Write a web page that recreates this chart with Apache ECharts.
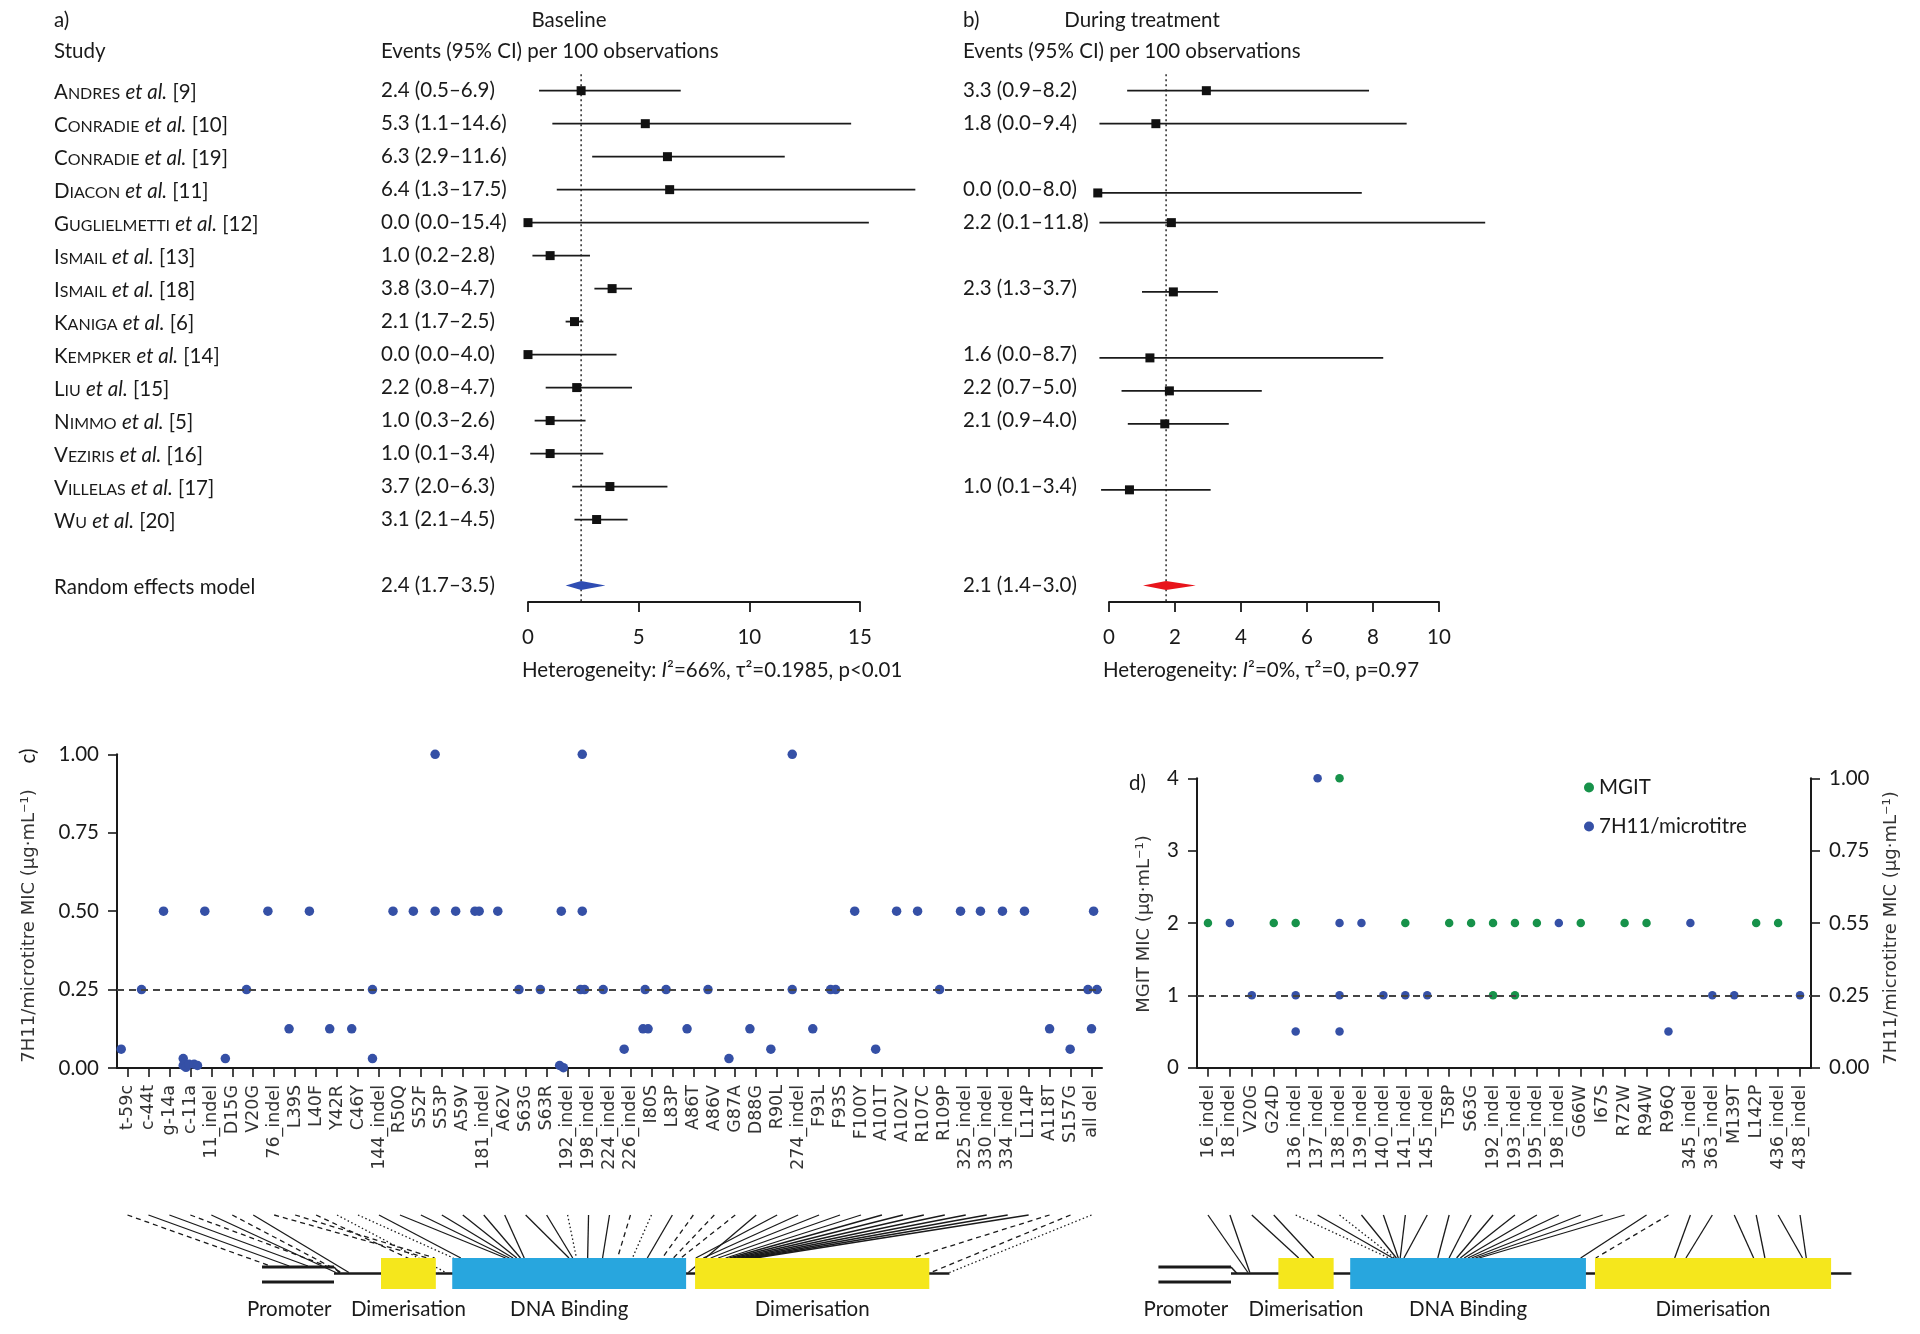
<!DOCTYPE html>
<html>
<head>
<meta charset="utf-8">
<title>Forest plots and MIC by mutation</title>
<script src="https://cdn.jsdelivr.net/npm/echarts@6.0.0/dist/echarts.min.js"></script>
<style>
html,body{margin:0;padding:0;background:#ffffff;}
#chart{width:1920px;height:1334px;}
</style>
</head>
<body>
<div id="chart"></div>
<script>
// ================= DATA =================
const studyNames = ['Andres','Conradie','Conradie','Diacon','Guglielmetti','Ismail','Ismail','Kaniga','Kempker','Liu','Nimmo','Veziris','Villelas','Wu'];
const studyRefs  = [9,10,19,11,12,13,18,6,14,15,5,16,17,20];

// a) Baseline
const baseEst = [2.4,5.3,6.3,6.4,0.0,1.0,3.8,2.1,0.0,2.2,1.0,1.0,3.7,3.1];
const baseLo  = [0.5,1.1,2.9,1.3,0.0,0.2,3.0,1.7,0.0,0.8,0.3,0.1,2.0,2.1];
const baseHi  = [6.9,14.6,11.6,17.5,15.4,2.8,4.7,2.5,4.0,4.7,2.6,3.4,6.3,4.5];
const basePooled = [1.7, 2.4, 3.5];
const baseText = ['2.4 (0.5–6.9)','5.3 (1.1–14.6)','6.3 (2.9–11.6)','6.4 (1.3–17.5)','0.0 (0.0–15.4)','1.0 (0.2–2.8)','3.8 (3.0–4.7)','2.1 (1.7–2.5)','0.0 (0.0–4.0)','2.2 (0.8–4.7)','1.0 (0.3–2.6)','1.0 (0.1–3.4)','3.7 (2.0–6.3)','3.1 (2.1–4.5)'];
const basePooledText = '2.4 (1.7–3.5)';

// b) During treatment (positions as drawn in the picture)
const treatRow = [0, 1, 3.1, 4, 6.1, 8.1, 9.1, 10.1, 12.1];
const treatEst = [2.95, 1.42, -0.34, 1.89, 1.95, 1.24, 1.83, 1.69, 0.62];
const treatLo  = [0.55, -0.29, -0.34, -0.29, 1.0, -0.29, 0.38, 0.57, -0.24];
const treatHi  = [7.88, 9.02, 7.66, 11.4, 3.3, 8.31, 4.63, 3.63, 3.08];
const treatPooled = [1.03, 1.73, 2.63];
const treatText = ['3.3 (0.9–8.2)','1.8 (0.0–9.4)','','0.0 (0.0–8.0)','2.2 (0.1–11.8)','','2.3 (1.3–3.7)','','1.6 (0.0–8.7)','2.2 (0.7–5.0)','2.1 (0.9–4.0)','','1.0 (0.1–3.4)',''];
const treatPooledText = '2.1 (1.4–3.0)';

// c) 7H11/microtitre MIC per mutation
const cCats = ['t-59c','c-44t','g-14a','c-11a','11_indel','D15G','V20G','76_indel','L39S','L40F','Y42R','C46Y','144_indel','R50Q','S52F','S53P','A59V','181_indel','A62V','S63G','S63R','192_indel','198_indel','224_indel','226_indel','I80S','L83P','A86T','A86V','G87A','D88G','R90L','274_indel','F93L','F93S','F100Y','A101T','A102V','R107C','R109P','325_indel','330_indel','334_indel','L114P','A118T','S157G','all del'];
const cPos = [-0.3,0.67,1.72,2.66,2.66,2.79,2.94,3.18,3.34,3.69,4.67,5.68,6.7,7.71,8.68,9.65,10.7,11.69,11.69,12.67,13.64,14.68,14.68,15.66,16.58,16.78,17.67,18.68,19.7,20.62,20.8,20.7,21.7,21.7,21.62,21.81,22.7,23.7,24.6,24.84,24.7,25.7,26.7,27.7,28.7,29.7,30.7,31.72,31.72,32.7,33.55,33.79,34.7,35.7,36.7,37.7,38.75,39.75,40.7,41.75,42.8,44.0,44.98,45.83,46.26,46.0,46.1];
const cVal = [0.06,0.25,0.5,0.03,0.008,0.002,0.012,0.012,0.008,0.5,0.03,0.25,0.5,0.125,0.5,0.125,0.125,0.25,0.03,0.5,0.5,1.0,0.5,0.5,0.5,0.5,0.5,0.25,0.25,0.008,0.001,0.5,1.0,0.5,0.25,0.25,0.25,0.06,0.125,0.125,0.25,0.25,0.125,0.25,0.03,0.125,0.06,1.0,0.25,0.125,0.25,0.25,0.5,0.06,0.5,0.5,0.25,0.5,0.5,0.5,0.5,0.125,0.06,0.25,0.25,0.125,0.5];

// d) MGIT and 7H11 MIC per mutation
const dCats = ['16_indel','18_indel','V20G','G24D','136_indel','137_indel','138_indel','139_indel','140_indel','141_indel','145_indel','T58P','S63G','192_indel','193_indel','195_indel','198_indel','G66W','I67S','R72W','R94W','R96Q','345_indel','363_indel','M139T','L142P','436_indel','438_indel'];
const mgitCat = ['16_indel','G24D','136_indel','138_indel','141_indel','T58P','S63G','192_indel','192_indel','193_indel','193_indel','195_indel','G66W','R72W','R94W','L142P','436_indel'];
const mgitVal = [2,2,2,4,2,2,2,2,1,2,1,2,2,2,2,2,2];
const h11Cat = ['18_indel','V20G','136_indel','136_indel','137_indel','138_indel','138_indel','138_indel','139_indel','140_indel','141_indel','145_indel','198_indel','R96Q','345_indel','363_indel','M139T','438_indel'];
const h11Val = [0.5,0.25,0.25,0.125,1.0,0.5,0.25,0.125,0.5,0.25,0.25,0.25,0.5,0.125,0.5,0.25,0.25,0.25];
const dRightTickLabels = ['0.00','0.25','0.55','0.75','1.00'];

// gene schematic (residue units)
const promoterSpan = [-19.3, 0];
const geneSpan = [0, 165];
const promoterLabelAt = -12;
const domainName  = ['Dimerisation','DNA Binding','Dimerisation'];
const domainStart = [12.6, 31.7, 96.8];
const domainEnd   = [27.3, 94.4, 159.6];
// where each mutation's connector meets the gene
const cGeneHit = [-17,-12,-7,-2,0.5,2,4,25,27,28,30,32,34,46,47,48,49,50,51,63,64,65,68,72,76,80,84,88,91,93,95,97,99,101,103,105,106,107,108,109,110,111,112,113,155,160,165];
const cLineType = ['d','s','s','d','s','d','s','d','d','d','o','o','s','s','s','s','s','s','s','s','s','o','s','s','d','o','s','d','d','d','s','s','s','s','s','s','s','s','s','s','s','s','s','s','d','d','o'];
const dGeneHit = [4.5,5,18,22,42,43,43.5,44,44.5,45,46,55,58,60,61,62,63,64,65,66,93,97,118,121,139,142,152,153];
const dLineType = ['s','s','s','s','o','s','o','s','s','s','s','s','s','s','s','s','s','s','s','s','s','d','s','s','s','s','s','s'];

// ================= STYLE =================
const F = 'Lato, "Noto Sans", sans-serif';
const FD = '"DejaVu Sans", sans-serif';
const FS = 20.5;
const INK = '#1a1a1a';
const BLUE = '#3550a6';
const GREEN = '#17924a';
const YELLOW = '#f5e71c';
const SKY = '#28a6de';
const Y = {top: 15, boxTop: 58, boxBot: 89, line: 73.5, promUp: 67, promLow: 82, label: 109};

// ================= HELPERS =================
function studyLabel(r) {
  if (r >= 0 && r < studyNames.length) {
    const n = studyNames[r];
    return '{cap|' + n[0] + '}{sc|' + n.slice(1).toUpperCase() + '}{t| }{it|et al.}{t| [' + studyRefs[r] + ']}';
  }
  if (r === studyNames.length + 1) return '{t|Random effects model}';
  return '';
}
function rowText(arr, pooled) {
  return function (v) {
    if (Math.abs(v - Math.round(v)) > 1e-6) return '';
    const r = Math.round(v);
    if (r >= 0 && r < arr.length) return arr[r];
    if (r === studyNames.length + 1) return pooled;
    return '';
  };
}
function ciRender(params, api) {
  const y = api.value(2);
  const p1 = api.coord([api.value(0), y]);
  const p2 = api.coord([api.value(1), y]);
  return {type: 'line', shape: {x1: p1[0], y1: p1[1], x2: p2[0], y2: p2[1]}, style: {stroke: INK, lineWidth: 1.8}};
}
function diamondRender(color) {
  return function (params, api) {
    const row = api.value(3);
    const l = api.coord([api.value(0), row]);
    const c = api.coord([api.value(1), row]);
    const r = api.coord([api.value(2), row]);
    return {type: 'polygon', shape: {points: [[l[0], c[1]], [c[0], c[1] - 4.5], [r[0], c[1]], [c[0], c[1] + 4.5]]}, style: {fill: color}};
  };
}
function refRender(params, api) {
  const a = api.coord([api.value(0), api.value(1)]);
  const b = api.coord([api.value(0), api.value(2)]);
  return {type: 'line', shape: {x1: a[0], y1: a[1], x2: b[0], y2: b[1]}, style: {stroke: INK, lineWidth: 1.4, lineDash: [2, 3]}};
}
function txt(x, y, text, opt) {
  opt = opt || {};
  const st = {text: text, fill: opt.fill || INK, font: opt.font || (FS + 'px ' + F),
    align: opt.align || 'left', textAlign: opt.align || 'left',
    verticalAlign: 'middle', textVerticalAlign: 'middle'};
  if (opt.rich) st.rich = opt.rich;
  return {type: 'text', x: x, y: y, rotation: opt.rot || 0, z: 10, style: st};
}
function backboneRender(params, api) {
  const pu0 = api.coord([promoterSpan[0], Y.promUp]), pu1 = api.coord([promoterSpan[1], Y.promUp]);
  const pl0 = api.coord([promoterSpan[0], Y.promLow]), pl1 = api.coord([promoterSpan[1], Y.promLow]);
  const g0 = api.coord([geneSpan[0], Y.line]), g1 = api.coord([geneSpan[1], Y.line]);
  const lb = api.coord([promoterLabelAt, Y.label]);
  return {type: 'group', children: [
    {type: 'line', shape: {x1: pu0[0], y1: pu0[1], x2: pu1[0], y2: pu1[1]}, style: {stroke: INK, lineWidth: 3}},
    {type: 'line', shape: {x1: pu1[0], y1: pu1[1], x2: g0[0] + 6, y2: g0[1]}, style: {stroke: INK, lineWidth: 1.5}},
    {type: 'line', shape: {x1: pl0[0], y1: pl0[1], x2: pl1[0], y2: pl1[1]}, style: {stroke: INK, lineWidth: 3}},
    {type: 'line', shape: {x1: g0[0], y1: g0[1], x2: g1[0], y2: g1[1]}, style: {stroke: INK, lineWidth: 2.5}},
    {type: 'text', x: lb[0], y: lb[1], style: {text: 'Promoter', fill: INK, font: FS + 'px ' + F, align: 'center', textAlign: 'center', verticalAlign: 'middle', textVerticalAlign: 'middle'}}
  ]};
}
function domainRender(params, api) {
  const i = api.value(2);
  const a = api.coord([api.value(0), Y.boxTop]);
  const b = api.coord([api.value(1), Y.boxBot]);
  const lb = api.coord([(api.value(0) + api.value(1)) / 2, Y.label]);
  return {type: 'group', children: [
    {type: 'rect', shape: {x: a[0], y: a[1], width: b[0] - a[0], height: b[1] - a[1]}, style: {fill: i === 1 ? SKY : YELLOW}},
    {type: 'text', x: lb[0], y: lb[1], style: {text: domainName[i], fill: INK, font: FS + 'px ' + F, align: 'center', textAlign: 'center', verticalAlign: 'middle', textVerticalAlign: 'middle'}}
  ]};
}
function inDomain(v) {
  for (let k = 0; k < domainStart.length; k++) if (v >= domainStart[k] && v <= domainEnd[k]) return true;
  return false;
}
function connRender(params, api) {
  const b = api.value(1);
  const yb = b < 0 ? Y.promUp - 1 : (inDomain(b) ? Y.boxTop : Y.line - 1);
  const t = api.coord([api.value(0), Y.top]);
  const e = api.coord([b, yb]);
  const code = api.value(2);
  return {type: 'line', shape: {x1: t[0], y1: t[1], x2: e[0], y2: e[1]},
    style: {stroke: INK, lineWidth: 1.3, lineDash: code === 1 ? [5, 4] : (code === 2 ? [1.5, 2.5] : null)}};
}

const hiddenAxis = {show: false, axisLine: {show: false}, axisTick: {show: false}, axisLabel: {show: false}, splitLine: {show: false}};
const forestY = {type: 'value', min: -1, max: 15.5, interval: 1, inverse: true, position: 'left',
  axisLine: {show: false}, axisTick: {show: false}, splitLine: {show: false}};
const labelBase = {fontFamily: F, fontSize: FS, color: INK};
const rich = {
  cap: {fontFamily: F, fontSize: FS, color: INK, verticalAlign: 'bottom', lineHeight: 24},
  sc: {fontFamily: F, fontSize: 16, color: INK, verticalAlign: 'bottom', lineHeight: 24, padding: [0, 0, 1, 0]},
  it: {fontFamily: F, fontSize: FS, fontStyle: 'italic', color: INK, verticalAlign: 'bottom', lineHeight: 24},
  t: {fontFamily: F, fontSize: FS, color: INK, verticalAlign: 'bottom', lineHeight: 24}
};
function forestX(grid, max, interval) {
  return {gridIndex: grid, type: 'value', min: 0, max: max, interval: interval, position: 'bottom',
    axisLine: {show: true, onZero: false, lineStyle: {color: INK, width: 1.8}},
    axisTick: {show: true, length: 10, lineStyle: {color: INK, width: 1.8}},
    axisLabel: Object.assign({show: true, margin: 25}, labelBase), splitLine: {show: false}};
}
function catX(grid, cats) {
  return {gridIndex: grid, type: 'category', data: cats, boundaryGap: true, position: 'bottom',
    axisLine: {show: true, onZero: false, lineStyle: {color: INK, width: 2}},
    axisTick: {show: true, interval: 0, alignWithLabel: true, length: 9, lineStyle: {color: INK, width: 1.6}},
    axisLabel: {show: true, interval: 0, rotate: 90, margin: 17, fontFamily: FD, fontSize: 17.5, color: '#333'},
    splitLine: {show: false}};
}
function valY(grid, min, max, interval, pos, fmt) {
  return {gridIndex: grid, type: 'value', min: min, max: max, interval: interval, position: pos,
    axisLine: {show: true, onZero: false, lineStyle: {color: INK, width: 2}},
    axisTick: {show: true, length: 9, lineStyle: {color: INK, width: 1.6}},
    axisLabel: Object.assign({show: true, margin: 18, formatter: fmt}, labelBase), splitLine: {show: false}};
}

// ================= OPTION =================
const option = {
  animation: false,
  backgroundColor: '#ffffff',
  grid: [
    {left: 528, top: 57.7, width: 332, height: 544.3},
    {left: 1109, top: 57.7, width: 330, height: 544.3},
    {left: 117, top: 754.3, width: 985, height: 313.7},
    {left: 1197, top: 778.3, width: 614, height: 289.4},
    {left: 259.4, top: 1200, width: 708.7, height: 100},
    {left: 1155.8, top: 1200, width: 714.4, height: 100}
  ],
  xAxis: [
    forestX(0, 15, 5),
    forestX(1, 10, 2),
    catX(2, cCats),
    Object.assign({gridIndex: 2, type: 'value', min: -0.5, max: cCats.length - 0.5}, hiddenAxis),
    catX(3, dCats),
    Object.assign({gridIndex: 4, type: 'value', min: -20, max: 170}, hiddenAxis),
    Object.assign({gridIndex: 5, type: 'value', min: -20, max: 170}, hiddenAxis)
  ],
  yAxis: [
    Object.assign({gridIndex: 0}, forestY, {axisLabel: Object.assign({margin: 474, align: 'left', rich: rich,
      formatter: function (v) { return Math.abs(v - Math.round(v)) > 1e-6 ? '' : studyLabel(Math.round(v)); }}, labelBase)}),
    Object.assign({gridIndex: 0}, forestY, {axisLabel: Object.assign({margin: 147, align: 'left', formatter: rowText(baseText, basePooledText)}, labelBase)}),
    Object.assign({gridIndex: 1}, forestY, {axisLabel: Object.assign({margin: 146, align: 'left', formatter: rowText(treatText, treatPooledText)}, labelBase)}),
    valY(2, 0, 1, 0.25, 'left', function (v) { return v.toFixed(2); }),
    valY(3, 0, 4, 1, 'left', function (v) { return String(v); }),
    valY(3, 0, 1, 0.25, 'right', function (v) { const s = dRightTickLabels[Math.round(v / 0.25)]; return s === undefined ? '' : s; }),
    Object.assign({gridIndex: 4, type: 'value', min: 0, max: 100, inverse: true}, hiddenAxis),
    Object.assign({gridIndex: 5, type: 'value', min: 0, max: 100, inverse: true}, hiddenAxis)
  ],
  legend: {
    show: true, orient: 'vertical', left: 1579, top: 772, itemWidth: 10, itemHeight: 10, itemGap: 18,
    icon: 'circle', selectedMode: false, data: ['MGIT', '7H11/microtitre'],
    textStyle: {fontFamily: F, fontSize: FS, color: INK}
  },
  graphic: [
    txt(54, 20, 'a)'),
    txt(569, 20, 'Baseline', {align: 'center'}),
    txt(54, 51, 'Study'),
    txt(381, 51, 'Events (95% CI) per 100 observations'),
    txt(963, 20, 'b)'),
    txt(1142, 20, 'During treatment', {align: 'center'}),
    txt(963, 51, 'Events (95% CI) per 100 observations'),
    txt(522, 670, '{n|Heterogeneity: }{i|I}{n|²=66%, τ²=0.1985, p<0.01}', {rich: {n: {fontFamily: F, fontSize: FS, color: INK}, i: {fontFamily: F, fontSize: FS, fontStyle: 'italic', color: INK}}}),
    txt(1103, 670, '{n|Heterogeneity: }{i|I}{n|²=0%, τ²=0, p=0.97}', {rich: {n: {fontFamily: F, fontSize: FS, color: INK}, i: {fontFamily: F, fontSize: FS, fontStyle: 'italic', color: INK}}}),
    txt(28, 756, 'c)', {align: 'center', rot: Math.PI / 2}),
    txt(29, 926, '7H11/microtitre MIC (µg·mL⁻¹)', {align: 'center', rot: Math.PI / 2, font: '18px ' + FD, fill: '#333'}),
    txt(1129, 783, 'd)'),
    txt(1144, 924, 'MGIT MIC (µg·mL⁻¹)', {align: 'center', rot: Math.PI / 2, font: '18px ' + FD, fill: '#333'}),
    txt(1891, 928, '7H11/microtitre MIC (µg·mL⁻¹)', {align: 'center', rot: Math.PI / 2, font: '18px ' + FD, fill: '#333'})
  ],
  series: [
    // ---- a) baseline
    {type: 'custom', xAxisIndex: 0, yAxisIndex: 0, renderItem: refRender, data: [[basePooled[1], -0.5, 15.5]], silent: true, z: 1},
    {type: 'custom', xAxisIndex: 0, yAxisIndex: 0, renderItem: ciRender, silent: true, z: 2,
      data: baseEst.map(function (v, i) { return [baseLo[i], baseHi[i], i]; })},
    {type: 'scatter', xAxisIndex: 0, yAxisIndex: 0, symbol: 'rect', symbolSize: 9, silent: true, z: 3, clip: false,
      itemStyle: {color: '#111', opacity: 1}, data: baseEst.map(function (v, i) { return [v, i]; })},
    {type: 'custom', xAxisIndex: 0, yAxisIndex: 0, renderItem: diamondRender('#2f4db3'), silent: true, z: 3,
      data: [[basePooled[0], basePooled[1], basePooled[2], studyNames.length + 1]]},
    // ---- b) during treatment
    {type: 'custom', xAxisIndex: 1, yAxisIndex: 2, renderItem: refRender, data: [[treatPooled[1], -0.5, 15.5]], silent: true, z: 1},
    {type: 'custom', xAxisIndex: 1, yAxisIndex: 2, renderItem: ciRender, silent: true, z: 2,
      data: treatEst.map(function (v, i) { return [treatLo[i], treatHi[i], treatRow[i]]; })},
    {type: 'scatter', xAxisIndex: 1, yAxisIndex: 2, symbol: 'rect', symbolSize: 9, silent: true, z: 3, clip: false,
      itemStyle: {color: '#111', opacity: 1}, data: treatEst.map(function (v, i) { return [v, treatRow[i]]; })},
    {type: 'custom', xAxisIndex: 1, yAxisIndex: 2, renderItem: diamondRender('#e8141b'), silent: true, z: 3,
      data: [[treatPooled[0], treatPooled[1], treatPooled[2], studyNames.length + 1]]},
    // ---- c) scatter
    {type: 'scatter', name: 'c7H11', xAxisIndex: 3, yAxisIndex: 3, symbol: 'circle', symbolSize: 9.5, clip: false, silent: true, z: 3,
      itemStyle: {color: BLUE, opacity: 1},
      data: cPos.map(function (p, i) { return [p, cVal[i]]; }),
      markLine: {silent: true, symbol: ['none', 'none'], label: {show: false},
        lineStyle: {type: [7, 5], color: '#444', width: 2.2}, data: [{yAxis: 0.25}]}},
    // ---- d) scatter
    {type: 'scatter', name: 'MGIT', xAxisIndex: 4, yAxisIndex: 4, symbol: 'circle', symbolSize: 8.5, clip: false, silent: true, z: 4,
      itemStyle: {color: GREEN, opacity: 1},
      data: mgitCat.map(function (c, i) { return [c, mgitVal[i]]; }),
      markLine: {silent: true, symbol: ['none', 'none'], label: {show: false},
        lineStyle: {type: [7, 5], color: '#444', width: 2.2}, data: [{yAxis: 1}]}},
    {type: 'scatter', name: '7H11/microtitre', xAxisIndex: 4, yAxisIndex: 5, symbol: 'circle', symbolSize: 8.5, clip: false, silent: true, z: 4,
      itemStyle: {color: BLUE, opacity: 1},
      data: h11Cat.map(function (c, i) { return [c, h11Val[i]]; })},
    // ---- c) gene schematic
    {id: 'cConn', type: 'custom', xAxisIndex: 5, yAxisIndex: 6, renderItem: connRender, silent: true, z: 1, data: []},
    {type: 'custom', xAxisIndex: 5, yAxisIndex: 6, renderItem: backboneRender, silent: true, z: 2, data: [[0, 0]]},
    {type: 'custom', xAxisIndex: 5, yAxisIndex: 6, renderItem: domainRender, silent: true, z: 3,
      data: domainStart.map(function (s, i) { return [s, domainEnd[i], i]; })},
    // ---- d) gene schematic
    {id: 'dConn', type: 'custom', xAxisIndex: 6, yAxisIndex: 7, renderItem: connRender, silent: true, z: 1, data: []},
    {type: 'custom', xAxisIndex: 6, yAxisIndex: 7, renderItem: backboneRender, silent: true, z: 2, data: [[0, 0]]},
    {type: 'custom', xAxisIndex: 6, yAxisIndex: 7, renderItem: domainRender, silent: true, z: 3,
      data: domainStart.map(function (s, i) { return [s, domainEnd[i], i]; })}
  ]
};

const chart = echarts.init(document.getElementById('chart'), null, {renderer: 'canvas', width: 1920, height: 1334});
chart.setOption(option);

// connectors: top end at each category tick (through the category axis), bottom at the gene position
const typeCode = {s: 0, d: 1, o: 2};
function buildConn(catAxisIndex, diagAxisIndex, hits, types) {
  return hits.map(function (h, i) {
    const px = chart.convertToPixel({xAxisIndex: catAxisIndex}, i);
    const top = chart.convertFromPixel({xAxisIndex: diagAxisIndex}, px);
    return [top, h, typeCode[types[i]]];
  });
}
chart.setOption({series: [
  {id: 'cConn', data: buildConn(2, 5, cGeneHit, cLineType)},
  {id: 'dConn', data: buildConn(4, 6, dGeneHit, dLineType)}
]});
</script>
</body>
</html>
